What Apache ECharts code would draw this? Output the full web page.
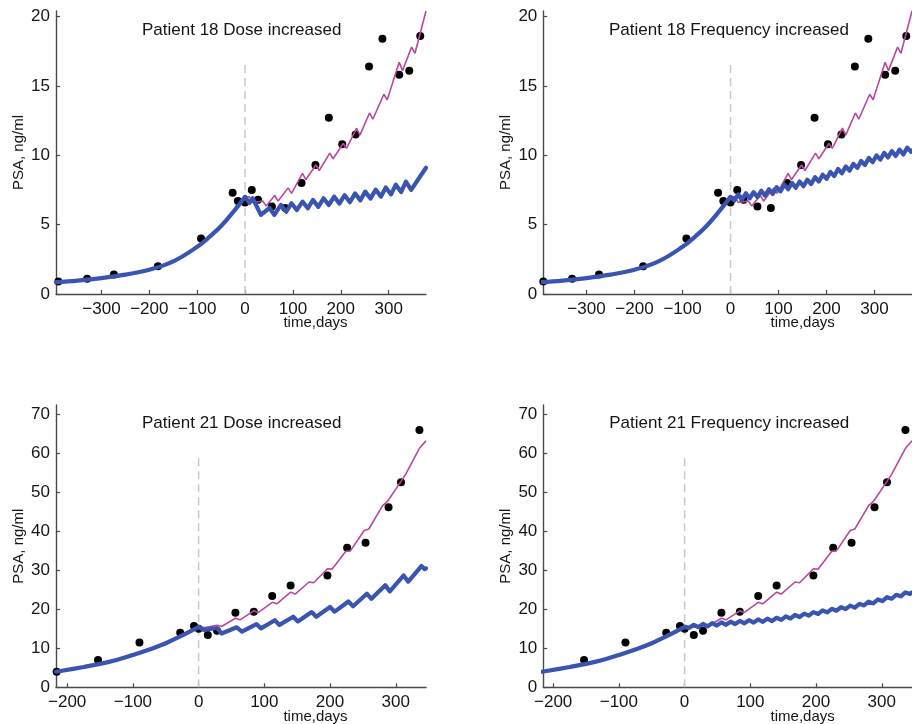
<!DOCTYPE html>
<html><head><meta charset="utf-8">
<script src="https://cdn.jsdelivr.net/npm/echarts@6/dist/echarts.min.js"></script>
<style>html,body{margin:0;padding:0;background:#fff}#c{width:912px;height:724px}</style>
</head><body><div id="c"></div>
<script>
// ---------- data ----------
const titles = ['Patient 18 Dose increased', 'Patient 18 Frequency increased', 'Patient 21 Dose increased', 'Patient 21 Frequency increased'];
const xTicksP18 = [-300, -200, -100, 0, 100, 200, 300];
const yTicksP18 = [0, 5, 10, 15, 20];
const xTicksP21 = [-200, -100, 0, 100, 200, 300];
const yTicksP21 = [0, 10, 20, 30, 40, 50, 60, 70];

// measured PSA, patient 18 [day, ng/ml]
const p18Obs = [[-390,0.9],[-330,1.1],[-274,1.4],[-182,2.0],[-92,4.0],[-26,7.3],[-15,6.7],[0,6.6],[14,7.5],[27,6.8],[56,6.3],[84,6.2],[118,8.0],[147,9.3],[175,12.7],[203,10.8],[231,11.5],[259,16.4],[287,18.4],[322,15.8],[343,16.1],[366,18.6]];
// measured PSA, patient 21
const p21Obs = [[-216,4.0],[-153,7.0],[-90,11.5],[-28,14.0],[-7,15.7],[0,15.0],[14,13.4],[28,14.5],[56,19.1],[84,19.4],[112,23.4],[140,26.1],[196,28.7],[226,35.8],[254,37.1],[289,46.2],[308,52.6],[336,66.0]];

// model, before the change (both panels of a patient)
const p18Pre = [[-395,0.86],[-350,0.97],[-300,1.15],[-250,1.4],[-200,1.75],[-150,2.35],[-100,3.4],[-75,4.1],[-50,4.9],[-25,5.9],[0,7.0]];
const p21Pre = [[-217,4.0],[-175,5.2],[-150,6.0],[-125,7.0],[-100,8.3],[-75,9.7],[-50,11.3],[-25,13.3],[0,15.5]];

// model, original schedule continued (magenta)
const p18Orig = [[0,7.0],[9,7.0],[16,6.6],[37,6.7],[44,6.35],[62,7.1],[69,6.7],[90,7.65],[97,7.25],[120,8.7],[127,8.25],[148,9.3],[155,8.9],[177,10.15],[184,9.75],[205,10.85],[212,10.5],[233,11.95],[240,11.45],[260,13.05],[267,12.6],[290,14.4],[297,14.0],[322,16.7],[329,16.1],[348,17.8],[355,17.35],[378,20.4]];
const p21Orig = [[0,15.5],[10,15.3],[28,15.9],[35,15.6],[56,17.7],[63,17.3],[84,19.6],[91,19.2],[112,21.8],[119,21.4],[140,24.4],[147,23.9],[168,27.0],[175,26.8],[196,30.4],[203,30.3],[224,34.9],[231,35.0],[252,40.2],[259,40.6],[280,46.6],[287,47.6],[308,52.8],[315,54.6],[336,61.3],[346,63.2]];

// model, changed schedule (blue)
const p18Dose = [[0,7.0],[9,6.55],[16,6.9],[33,5.7],[51,6.2],[61,5.7],[75,6.42],[86,5.93],[97,6.54],[108,6.05],[120,6.66],[131,6.18],[142,6.78],[153,6.28],[164,6.9],[175,6.42],[186,7.02],[197,6.52],[208,7.12],[219,6.62],[230,7.25],[241,6.75],[251,7.38],[262,6.88],[273,7.52],[284,7.02],[294,7.68],[305,7.18],[315,7.88],[326,7.35],[336,8.1],[347,7.5],[378,9.1]];
const p18Freq = [[0,7.0],[8,6.74],[16,7.18],[24,6.82],[32,7.26],[40,6.9],[48,7.34],[56,6.99],[64,7.44],[72,7.09],[80,7.55],[88,7.21],[96,7.7],[104,7.4],[112,7.89],[120,7.55],[128,8.01],[136,7.66],[144,8.11],[152,7.77],[160,8.24],[168,7.93],[176,8.42],[184,8.11],[192,8.6],[200,8.3],[208,8.8],[216,8.51],[224,9.01],[232,8.7],[240,9.19],[248,8.89],[256,9.38],[264,9.09],[272,9.59],[280,9.3],[288,9.81],[296,9.5],[304,9.99],[312,9.68],[320,10.17],[328,9.84],[336,10.3],[344,9.95],[352,10.41],[360,10.06],[368,10.55],[376,10.25],[378,10.35]];
const p21Dose = [[0,15.5],[8,14.7],[28,15.2],[35,13.8],[58,15.4],[66,14.3],[88,16.2],[95,15.1],[116,17.2],[123,16.0],[144,18.1],[151,16.9],[172,19.3],[179,18.1],[200,20.6],[207,19.4],[228,22.0],[235,20.8],[256,24.0],[263,22.7],[284,26.2],[291,24.6],[312,28.7],[319,27.1],[339,31.1],[344,30.3],[346,30.5]];
const p21Freq = [[0,15.5],[7,15.25],[14,16.04],[21,15.44],[28,16.24],[35,15.64],[42,16.43],[49,15.84],[56,16.65],[63,16.03],[70,16.82],[77,16.22],[84,17.01],[91,16.41],[98,17.2],[105,16.6],[112,17.4],[119,16.8],[126,17.6],[133,16.99],[140,17.83],[147,17.3],[154,18.18],[161,17.65],[168,18.55],[175,18.02],[182,18.9],[189,18.38],[196,19.29],[203,18.8],[210,19.71],[217,19.22],[224,20.13],[231,19.64],[238,20.55],[245,20.05],[252,20.95],[259,20.45],[266,21.42],[273,20.99],[280,21.95],[287,21.52],[294,22.52],[301,22.11],[308,23.11],[315,22.71],[322,23.72],[329,23.33],[336,24.34],[343,23.95],[346,24.3]];

// dashed marker at the change (day 0)
const p18Change = [[0,0],[0,16.75]];
const p21Change = [[0,0],[0,59.6]];

// ---------- layout ----------
const FONT = '"Liberation Sans", Arial, Helvetica, sans-serif';
const BLUE = '#3a54b1';
const MAGENTA = '#b8489f';
const AXIS = '#4a4a4a';

const panels = [
  {grid:{left:56, top:11, width:370, height:283}, xMin:-395, xMax:378, yMin:0, yMax:20.4, xt:xTicksP18, yt:yTicksP18, obs:p18Obs, pre:p18Pre, orig:p18Orig, mod:p18Dose, ch:p18Change},
  {grid:{left:543.3, top:11, width:371, height:283}, xMin:-390, xMax:378, yMin:0, yMax:20.4, xt:xTicksP18, yt:yTicksP18, obs:p18Obs, pre:p18Pre, orig:p18Orig, mod:p18Freq, ch:p18Change},
  {grid:{left:56, top:405, width:370, height:282.3}, xMin:-217, xMax:346, yMin:0, yMax:72.4, xt:xTicksP21, yt:yTicksP21, obs:p21Obs, pre:p21Pre, orig:p21Orig, mod:p21Dose, ch:p21Change},
  {grid:{left:543.3, top:405, width:370.3, height:282.3}, xMin:-215, xMax:346, yMin:0, yMax:72.4, xt:xTicksP21, yt:yTicksP21, obs:p21Obs, pre:p21Pre, orig:p21Orig, mod:p21Freq, ch:p21Change}
];
const titlePos = [[241.7,30],[729,30],[241.7,423.3],[729.3,423.3]];
const xNamePos = [[315.5,322.7],[802.7,322.7],[315.5,716.5],[802.7,716.5]];

const minus = v => String(v).replace('-', '\u2212');

const grids = [], xAxes = [], yAxes = [], series = [], graphics = [];
panels.forEach((p, i) => {
  grids.push(Object.assign({containLabel:false}, p.grid));
  xAxes.push({
    type:'value', gridIndex:i, min:p.xMin, max:p.xMax,
    axisLine:{show:true, onZero:false, lineStyle:{color:AXIS, width:1.4}},
    axisTick:{show:true, inside:true, length:4, customValues:p.xt, lineStyle:{color:AXIS, width:1.2}},
    axisLabel:{customValues:p.xt, formatter:minus, color:'#151515', fontSize:17, fontFamily:FONT, margin:7},
    splitLine:{show:false}
  });
  yAxes.push({
    type:'value', gridIndex:i, min:p.yMin, max:p.yMax,
    name:'PSA, ng/ml', nameLocation:'middle', nameGap:30,
    nameTextStyle:{fontSize:15, fontFamily:FONT, color:'#151515'},
    axisLine:{show:true, onZero:false, lineStyle:{color:AXIS, width:1.4}},
    axisTick:{show:true, inside:true, length:4, customValues:p.yt, lineStyle:{color:AXIS, width:1.2}},
    axisLabel:{customValues:p.yt, formatter:minus, color:'#151515', fontSize:17, fontFamily:FONT, margin:6},
    splitLine:{show:false}
  });
  series.push({type:'line', xAxisIndex:i, yAxisIndex:i, data:p.ch, symbol:'none', silent:true, z:1,
    lineStyle:{color:'#c8c8c8', width:1.5, type:[8,5]}});
  series.push({type:'scatter', xAxisIndex:i, yAxisIndex:i, data:p.obs, symbolSize:8, z:2,
    itemStyle:{color:'#000', opacity:1}});
  series.push({type:'line', xAxisIndex:i, yAxisIndex:i, data:p.orig, symbol:'none', z:3,
    lineStyle:{color:MAGENTA, width:1.6}});
  series.push({type:'line', xAxisIndex:i, yAxisIndex:i, data:p.pre, symbol:'none', smooth:0.4, z:4,
    lineStyle:{color:BLUE, width:4.2, cap:'round'}});
  series.push({type:'line', xAxisIndex:i, yAxisIndex:i, data:p.mod, symbol:'none', z:4,
    lineStyle:{color:BLUE, width:4.2, join:'round', cap:'round'}});
  graphics.push({type:'text', x:titlePos[i][0], y:titlePos[i][1], z:10,
    style:{text:titles[i], font:'17px ' + FONT, fill:'#151515', align:'center', verticalAlign:'middle', textAlign:'center', textVerticalAlign:'middle'}});
  graphics.push({type:'text', x:xNamePos[i][0], y:xNamePos[i][1], z:10,
    style:{text:'time,days', font:'15px ' + FONT, fill:'#151515', align:'center', verticalAlign:'middle', textAlign:'center', textVerticalAlign:'middle'}});
});

const chart = echarts.init(document.getElementById('c'), null, {renderer:'canvas'});
chart.setOption({
  animation:false,
  backgroundColor:'#fff',
  grid:grids, xAxis:xAxes, yAxis:yAxes, series:series, graphic:graphics
});
</script></body></html>
